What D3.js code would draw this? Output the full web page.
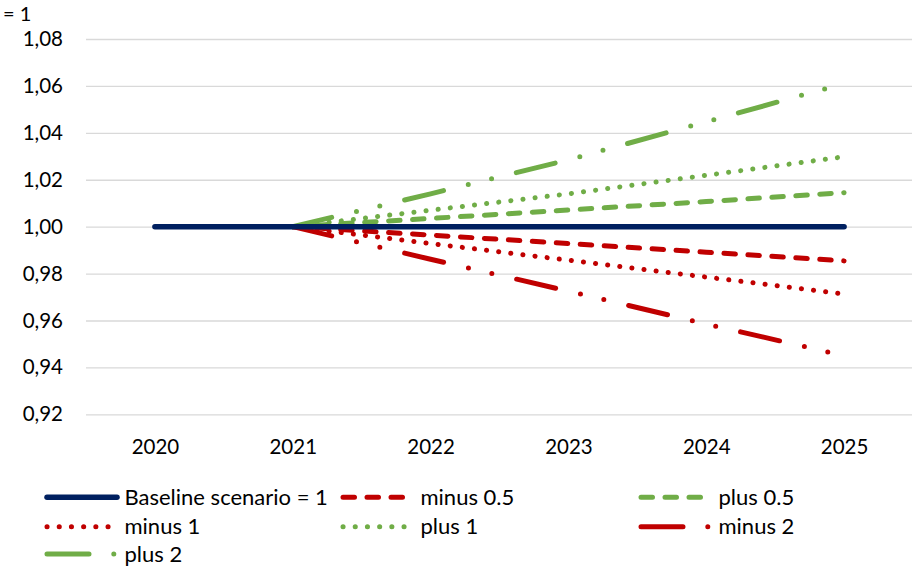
<!DOCTYPE html>
<html>
<head>
<meta charset="utf-8">
<script src="https://cdn.jsdelivr.net/npm/d3@7/dist/d3.min.js"></script>
<style>
  body { margin: 0; background: #fff; }
  svg text { font-family: Lato, "Open Sans", sans-serif; fill: #000; }
</style>
</head>
<body>
<div id="container"></div>
<script>
/* CONSTANTS AND GLOBALS */
const width = 912,
      height = 567,
      margin = {top: 39, bottom: 152.7, left: 86, right: -1};

// data
const years = [2020, 2021, 2022, 2023, 2024, 2025];
const yTicks = [0.92, 0.94, 0.96, 0.98, 1.00, 1.02, 1.04, 1.06, 1.08];

const baseline = [1, 1, 1, 1, 1, 1];
const minus05  = [null, 1, 0.9964, 0.9928, 0.9891, 0.9854];
const plus05   = [null, 1, 1.0035, 1.0071, 1.0107, 1.0145];
const minus1   = [null, 1, 0.9928, 0.9857, 0.9785, 0.9713];
const plus1    = [null, 1, 1.0070, 1.0140, 1.0219, 1.0298];
const minus2   = [null, 1, 0.9861, 0.9725, 0.9585, 0.9450];
const plus2    = [null, 1, 1.0140, 1.0285, 1.0447, 1.0610];

const navy = "#002060", red = "#C00000", green = "#70AD47";

// dash styles (Excel-like)
const dashStyle = {
  solid: null,
  dash: "11.5 12.5",
  dot: "0.1 12.1",
  longDashDotDot: "40 25.5 0 24 0 25.5"
};

const series = [
  {name: "minus 0.5", values: minus05, color: red, style: "dash"},
  {name: "plus 0.5", values: plus05, color: green, style: "dash"},
  {name: "minus 1", values: minus1, color: red, style: "dot"},
  {name: "plus 1", values: plus1, color: green, style: "dot"},
  {name: "minus 2", values: minus2, color: red, style: "longDashDotDot"},
  {name: "plus 2", values: plus2, color: green, style: "longDashDotDot"},
  {name: "Baseline scenario = 1", values: baseline, color: navy, style: "solid", w: 5.5}
];

// legend order as in the picture
const legendOrder = ["Baseline scenario = 1", "minus 0.5", "plus 0.5",
                     "minus 1", "plus 1", "minus 2", "plus 2"];

const commaFormat = d3.formatLocale({decimal: ",", thousands: ".", grouping: [3], currency: ["", ""]}).format(".2f");

const svg = d3.select("#container")
  .append("svg")
  .attr("width", width)
  .attr("height", height);

/* SCALES */
const xScale = d3.scalePoint()
  .domain(years)
  .range([margin.left, width - margin.right])
  .padding(0.5);

const yScale = d3.scaleLinear()
  .domain([0.92, 1.08])
  .range([height - margin.bottom, margin.top]);

// gridlines
svg.append("g")
  .attr("transform", `translate(${margin.left},0)`)
  .call(d3.axisLeft(yScale).tickValues(yTicks).tickSize(-(width - margin.right - margin.left)).tickFormat(""))
  .call(g => g.select(".domain").remove())
  .call(g => g.selectAll("line").attr("stroke", "#D9D9D9").attr("stroke-width", 1.3));

// y labels
svg.append("g")
  .attr("transform", `translate(${margin.left},0)`)
  .call(d3.axisLeft(yScale).tickValues(yTicks).tickSize(0).tickPadding(23).tickFormat(commaFormat))
  .call(g => g.select(".domain").remove())
  .call(g => g.selectAll("text").style("font-size", "20.5px").style("font-family", "Lato"));

// x labels
svg.append("g")
  .attr("transform", `translate(0,${height - margin.bottom})`)
  .call(d3.axisBottom(xScale).tickSize(0).tickPadding(25))
  .call(g => g.select(".domain").remove())
  .call(g => g.selectAll("text").style("font-size", "20.5px").style("font-family", "Lato"));

// clipped title remnant
svg.append("text")
  .attr("x", 3)
  .attr("y", 20.5)
  .style("font-size", "20px")
  .text("= 1");

/* LINES */
const lineGen = d3.line()
  .defined(d => d.v != null)
  .x(d => xScale(d.year))
  .y(d => yScale(d.v));

svg.selectAll(".line")
  .data(series)
  .join("path")
  .attr("class", "line")
  .attr("fill", "none")
  .attr("stroke", d => d.color)
  .attr("stroke-width", d => d.w || 5)
  .attr("stroke-linecap", "round")
  .attr("stroke-linejoin", "round")
  .attr("stroke-dasharray", d => dashStyle[d.style])
  .attr("d", d => lineGen(years.map((y, i) => ({year: y, v: d.values[i]}))));

/* LEGEND */
const legendCols = [45, 341, 639],
      legendRows = [497.3, 526.7, 554];

const legend = svg.selectAll(".legend")
  .data(legendOrder.map(n => series.find(s => s.name === n)))
  .join("g")
  .attr("class", "legend")
  .attr("transform", (d, i) => `translate(${legendCols[i % 3]},${legendRows[Math.floor(i / 3)]})`);

legend.append("line")
  .attr("x1", 2)
  .attr("x2", 72)
  .attr("stroke", d => d.color)
  .attr("stroke-width", d => d.w || 5)
  .attr("stroke-linecap", "round")
  .attr("stroke-dasharray", d => d.style === "longDashDotDot" ? "42 24.8 0 200" : dashStyle[d.style]);

legend.append("text")
  .attr("x", 79.5)
  .attr("dy", "0.35em")
  .style("font-size", "22px")
  .text(d => d.name);
</script>
</body>
</html>
